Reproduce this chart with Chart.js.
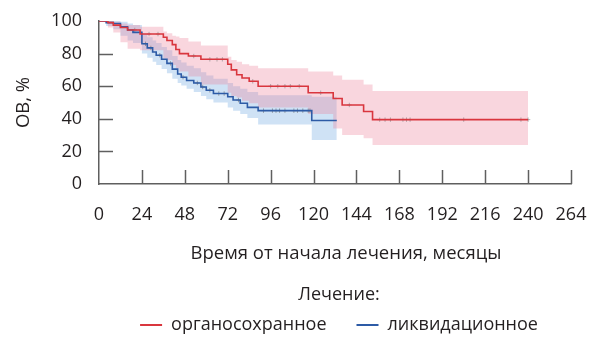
<!DOCTYPE html>
<html>
<head>
<meta charset="utf-8">
<title>Общая выживаемость</title>
<script src="https://cdn.jsdelivr.net/npm/chart.js@4/dist/chart.umd.min.js"></script>
<style>
  html, body { margin: 0; padding: 0; background: #ffffff; }
  #wrap { width: 601px; height: 340px; position: relative; }
</style>
</head>
<body>
<div id="wrap"><canvas id="chart"></canvas></div>
<script>
// Kaplan–Meier overall survival (%) by treatment type, months from start of treatment.
// Each value is the estimate right after the event at that month.

// органосохранное лечение
const monthsOrg = [0, 5, 8, 12, 16, 23, 36, 38, 41, 43, 45, 50, 57, 72, 74, 77, 80, 84, 89, 117, 131, 136, 148, 153, 240];
const survOrg   = [100, 99, 97.5, 96, 94.5, 92, 90, 88, 85.5, 82.5, 80, 78.5, 76.5, 73.5, 70, 67, 65, 63, 60, 56, 52.5, 48.5, 44.5, 39.5, 39.5];
const upperOrg  = [100, 100, 99.5, 98.5, 97.5, 96.5, 93.5, 92.5, 91, 90.5, 89.5, 87.5, 85, 78, 76, 75, 73.5, 72.5, 71, 69, 66.5, 64, 61, 57, 57];
const lowerOrg  = [100, 96, 93, 87, 83, 82, 77, 76, 73, 71, 69, 66, 61, 56, 54, 53, 51, 49.5, 47, 43, 34, 30, 28, 24, 24];
const censorOrg = [20, 28, 33, 53, 62, 66, 69, 86, 96, 100, 104, 107, 112, 124, 140, 157, 160, 163, 170, 172, 174, 204, 236, 240];

// ликвидационное лечение
const monthsLiq = [0, 4, 8, 12, 16, 19, 24, 27, 30, 32, 35, 38, 41, 44, 46, 49, 53, 57, 60, 64, 72, 75, 79, 83, 89, 119, 133];
const survLiq   = [100, 99, 98.5, 96.5, 94.5, 93, 86, 83.5, 81, 79, 76.5, 74, 70.5, 67.5, 65.5, 63.5, 62, 59.5, 57.5, 55.5, 53.5, 51.5, 49.5, 47, 45, 39, 39];
const upperLiq  = [100, 100, 100, 99.5, 98.5, 97.5, 92, 90, 88, 86.5, 84, 82, 78.5, 76, 74.5, 72.5, 71, 68.5, 66.5, 64.5, 62, 60, 58.5, 56.5, 54.5, 53.6, 53.6];
const lowerLiq  = [100, 97, 95, 91, 88, 86.5, 80, 77.5, 75, 73, 70.5, 68, 64.5, 62, 60.5, 58.5, 56.5, 54, 52, 50, 47, 45, 43, 40.5, 36.5, 27, 27];
const censorLiq = [26, 29, 34, 40, 47, 55, 58, 62, 67, 70, 78, 92, 97, 99, 101, 104, 109, 111, 114, 117, 118];

const xTicks = [0, 24, 48, 72, 96, 120, 144, 168, 192, 216, 240, 264];
const yTicks = [0, 20, 40, 60, 80, 100];

const seriesNames = ['органосохранное', 'ликвидационное'];
const xTitle = 'Время от начала лечения, месяцы';
const yTitle = 'ОВ, %';
const legendTitle = 'Лечение:';

const RED = '#d9363e';
const BLUE = '#2d5ba6';
const RED_BAND = 'rgba(236, 120, 146, 0.30)';
const BLUE_BAND = 'rgba(108, 168, 224, 0.33)';
const AXIS = '#5f5f5f';
const TEXT = '#231f20';
const FONT = "'Open Sans', 'Noto Sans', sans-serif";

const toPoints = (xs, ys) => xs.map((x, i) => ({ x: x, y: ys[i] }));

// survival value on the step curve at time t (for placing censoring marks)
function stepValue(xs, ys, t) {
  let v = ys[0];
  for (let i = 0; i < xs.length; i++) { if (xs[i] <= t) v = ys[i]; }
  return v;
}
const censorPoints = (cs, xs, ys) => cs.map(t => ({ x: t, y: stepValue(xs, ys, t) }));

// inward tick marks on both axes
const innerTicks = {
  id: 'innerTicks',
  afterDraw(chart) {
    const { ctx, chartArea, scales } = chart;
    const len = 14;
    ctx.save();
    ctx.strokeStyle = AXIS;
    ctx.lineWidth = 1.5;
    xTicks.slice(1).forEach(v => {
      const px = Math.round(scales.x.getPixelForValue(v)) + 0.5;
      ctx.beginPath();
      ctx.moveTo(px, chartArea.bottom);
      ctx.lineTo(px, chartArea.bottom - len);
      ctx.stroke();
    });
    yTicks.slice(1, -1).forEach(v => {
      const py = Math.round(scales.y.getPixelForValue(v)) + 0.5;
      ctx.beginPath();
      ctx.moveTo(chartArea.left, py);
      ctx.lineTo(chartArea.left + len, py);
      ctx.stroke();
    });
    ctx.restore();
  }
};

// centre the bottom caption and the legend on fixed horizontal positions
const centreBottomBoxes = {
  id: 'centreBottomBoxes',
  afterLayout(chart) {
    const place = (box, cx) => {
      if (!box) return;
      const dx = cx - (box.left + box.right) / 2;
      box.left += dx; box.right += dx;
    };
    place(chart.titleBlock, 346);
    place(chart.legend, 339);
  }
};

const bandStyle = (color) => ({
  borderWidth: 0,
  borderColor: 'rgba(0,0,0,0)',
  backgroundColor: color,
  pointRadius: 0,
  stepped: 'before',
  order: 3
});

new Chart(document.getElementById('chart'), {
  type: 'line',
  data: {
    datasets: [
      { label: seriesNames[0], data: toPoints(monthsOrg, survOrg), borderColor: RED, borderWidth: 1.6,
        pointRadius: 0, stepped: 'before', fill: false, order: 0 },
      { label: seriesNames[1], data: toPoints(monthsLiq, survLiq), borderColor: BLUE, borderWidth: 1.6,
        pointRadius: 0, stepped: 'before', fill: false, order: 0 },
      { label: 'censor-org', data: censorPoints(censorOrg, monthsOrg, survOrg), showLine: false,
        pointStyle: 'cross', pointRadius: 2.2, borderWidth: 1, borderColor: 'rgba(120,120,120,0.55)', order: 1 },
      { label: 'censor-liq', data: censorPoints(censorLiq, monthsLiq, survLiq), showLine: false,
        pointStyle: 'cross', pointRadius: 2.2, borderWidth: 1, borderColor: 'rgba(110,110,110,0.6)', order: 1 },
      Object.assign({ label: 'ci-org-upper', data: toPoints(monthsOrg, upperOrg), fill: { target: 5 } }, bandStyle(RED_BAND)),
      Object.assign({ label: 'ci-org-lower', data: toPoints(monthsOrg, lowerOrg), fill: false }, bandStyle(RED_BAND)),
      Object.assign({ label: 'ci-liq-upper', data: toPoints(monthsLiq, upperLiq), fill: { target: 7 } }, bandStyle(BLUE_BAND)),
      Object.assign({ label: 'ci-liq-lower', data: toPoints(monthsLiq, lowerLiq), fill: false }, bandStyle(BLUE_BAND))
    ]
  },
  options: {
    responsive: true,
    maintainAspectRatio: false,
    animation: false,
    events: [],
    layout: { padding: { top: 21, right: 30, left: 0, bottom: -4 } },
    font: { family: FONT },
    scales: {
      x: {
        type: 'linear',
        min: 0, max: 264,
        afterBuildTicks: s => { s.ticks = xTicks.map(v => ({ value: v })); },
        afterFit: s => { s.height = 41; s.paddingLeft = 0; s.paddingRight = 0; },
        ticks: { autoSkip: false, maxRotation: 0, padding: 20, color: TEXT, font: { family: FONT, size: 18 } },
        grid: { display: false, drawTicks: false },
        border: { display: true, color: AXIS, width: 1.5 }
      },
      y: {
        type: 'linear',
        min: 0, max: 100,
        afterBuildTicks: s => { s.ticks = yTicks.map(v => ({ value: v })); },
        afterFit: s => { s.width = 99; s.paddingTop = 0; s.paddingBottom = 0; },
        ticks: { padding: 17, color: TEXT, font: { family: FONT, size: 18 } },
        grid: { display: false, drawTicks: false },
        border: { display: true, color: AXIS, width: 1.5 },
        title: { display: true, text: yTitle, color: TEXT, padding: { top: 12.5, bottom: 0 },
                 font: { family: FONT, size: 18.5 } }
      }
    },
    plugins: {
      tooltip: { enabled: false },
      title: {
        display: true, text: xTitle, position: 'bottom', weight: 500,
        color: TEXT, font: { family: FONT, size: 18.5, weight: 'normal' },
        padding: { top: 17.9, bottom: 0 }
      },
      legend: {
        display: true, position: 'bottom', weight: 1000,
        title: { display: true, text: legendTitle, color: TEXT,
                 font: { family: FONT, size: 18 }, padding: { top: 20.9, bottom: -21.6 } },
        labels: {
          boxWidth: 22, boxHeight: 2, padding: 30, color: TEXT,
          font: { family: FONT, size: 18 },
          generateLabels: chart => chart.data.datasets.slice(0, 2).map((ds, i) => ({
            text: ds.label, fillStyle: ds.borderColor, strokeStyle: ds.borderColor,
            lineWidth: 0, hidden: false, datasetIndex: i, fontColor: TEXT
          }))
        }
      }
    }
  },
  plugins: [innerTicks, centreBottomBoxes]
});
</script>
</body>
</html>
